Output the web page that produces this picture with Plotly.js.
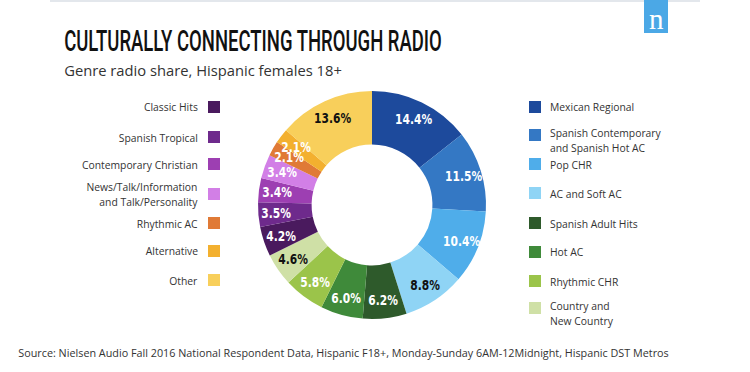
<!DOCTYPE html>
<html>
<head>
<meta charset="utf-8">
<script src="https://cdn.plot.ly/plotly-3.0.1.min.js"></script>
<style>html,body{margin:0;padding:0;background:#fff;}#chart{width:750px;height:372px;}</style>
</head>
<body>
<div id="chart"></div>
<script>
// ---- Data ----
const genres = [
  "Mexican Regional",
  "Spanish Contemporary<br>and Spanish Hot AC",
  "Pop CHR",
  "AC and Soft AC",
  "Spanish Adult Hits",
  "Hot AC",
  "Rhythmic CHR",
  "Country and<br>New Country",
  "Classic Hits",
  "Spanish Tropical",
  "Contemporary Christian",
  "News/Talk/Information<br>and Talk/Personality",
  "Rhythmic AC",
  "Alternative",
  "Other"
];
const shares = [14.4, 11.5, 10.4, 8.8, 6.2, 6.0, 5.8, 4.6, 4.2, 3.5, 3.4, 3.4, 2.1, 2.1, 13.6];
const shareLabels = ["14.4%","11.5%","10.4%","8.8%","6.2%","6.0%","5.8%","4.6%","4.2%","3.5%","3.4%","3.4%","2.1%","2.1%","13.6%"];
const colors = ["#1d4a9c","#3478c4","#4fadea","#8fd4f5","#2e5a2b","#3f8a3a","#9bc44a","#cfe0a6",
                "#4a1a5e","#6e2a8c","#9d3fb2","#d27fe6","#e07a36","#f3b02f","#f8cf5b"];
const textColors = ["#fff","#fff","#fff","#111","#fff","#fff","#fff","#111",
                    "#fff","#fff","#fff","#fff","#fff","#fff","#111"];
const rightLegend = [0,1,2,3,4,5,6,7];
const leftLegend = [8,9,10,11,12,13,14];

// ---- Geometry (pixels) ----
const W = 750, H = 372;
const cx = 372, cy = 205, R = 114;
const px = x => x / W;
const py = y => 1 - y / H;

const annotations = [];
const shapes = [];
const squeeze = []; // per-annotation horizontal scale factors (or target width)

function addAnn(a, sq) { annotations.push(a); squeeze.push(sq || null); }

// top rule + logo
shapes.push({type:"rect", xref:"paper", yref:"paper", x0:px(50), x1:px(700), y0:py(0), y1:py(2),
  fillcolor:"#e3e7ec", line:{width:0}, layer:"below"});
shapes.push({type:"rect", xref:"paper", yref:"paper", x0:px(644), x1:px(668), y0:py(0), y1:py(33),
  fillcolor:"#4ba8e6", line:{width:0}});
addAnn({text:"n", xref:"paper", yref:"paper", x:px(656), y:py(19), xanchor:"center", yanchor:"middle",
  showarrow:false, font:{family:"Liberation Serif, DejaVu Serif, serif", size:29, color:"#ffffff"}});

// titles
const condensed = "DejaVu Sans Condensed, Liberation Sans Narrow, Arial Narrow, sans-serif";
addAnn({text:"CULTURALLY CONNECTING THROUGH RADIO", xref:"paper", yref:"paper", x:px(62), y:py(40),
  xanchor:"left", yanchor:"middle", showarrow:false,
  font:{family:"Roboto, sans-serif", size:30, color:"#111111", weight:500}}, {width:378});
addAnn({text:"Genre radio share, Hispanic females 18+", xref:"paper", yref:"paper", x:px(62), y:py(70),
  xanchor:"left", yanchor:"middle", showarrow:false,
  font:{family:"Open Sans, sans-serif", size:15, color:"#333333"}}, {width:278});
addAnn({text:"Source: Nielsen Audio Fall 2016 National Respondent Data, Hispanic F18+, Monday-Sunday 6AM-12Midnight, Hispanic DST Metros",
  xref:"paper", yref:"paper", x:px(16), y:py(352), xanchor:"left", yanchor:"middle", showarrow:false,
  font:{family:"Open Sans, sans-serif", size:11, color:"#333333"}}, {width:651});

// legends
const legendFont = {family:"Open Sans, sans-serif", size:11.5, color:"#333333"};
const leftY = [107,137,164,194,223,251,280];
leftLegend.forEach((idx, i) => {
  const y = leftY[i];
  shapes.push({type:"rect", xref:"paper", yref:"paper", x0:px(208), x1:px(220), y0:py(y-6), y1:py(y+6),
    fillcolor:colors[idx], line:{width:0}});
  addAnn({text:genres[idx], xref:"paper", yref:"paper", x:px(200), y:py(y), xanchor:"right", yanchor:"middle",
    align:"right", showarrow:false, font:legendFont}, {k:0.9});
});
const rightY = [107,135,164,193,223,252,281,308];
rightLegend.forEach((idx, i) => {
  const y = rightY[i];
  shapes.push({type:"rect", xref:"paper", yref:"paper", x0:px(529), x1:px(541), y0:py(y-6), y1:py(y+6),
    fillcolor:colors[idx], line:{width:0}});
  const multi = genres[idx].indexOf("<br>") >= 0;
  addAnn({text:genres[idx], xref:"paper", yref:"paper", x:px(548), y:py(multi ? y+5 : y), xanchor:"left", yanchor:"middle",
    align:"left", showarrow:false, font:legendFont}, {k:0.9});
});

// slice labels, positioned from the data's cumulative shares
const total = shares.reduce((a,b)=>a+b,0);
let cum = 0;
const labelR = 96;
shares.forEach((v, i) => {
  const mid = (cum + v/2) / total;
  cum += v;
  const th = 2*Math.PI*mid;
  addAnn({text:shareLabels[i], xref:"paper", yref:"paper",
    x:px(cx + labelR*Math.sin(th)), y:py(cy - labelR*Math.cos(th)), xanchor:"center", yanchor:"middle",
    showarrow:false, font:{family:condensed, size:14.5, color:textColors[i], weight:"bold"}}, {k:0.82});
});

const trace = {
  type:"pie",
  labels: genres,
  values: shares,
  sort:false,
  direction:"clockwise",
  rotation:0,
  hole:0.53,
  marker:{colors:colors, line:{width:0}},
  textinfo:"none",
  hoverinfo:"none",
  showlegend:false,
  domain:{x:[px(cx-R), px(cx+R)], y:[py(cy+R), py(cy-R)]}
};

const layout = {
  width:W, height:H,
  margin:{l:0,r:0,t:0,b:0},
  paper_bgcolor:"#ffffff",
  showlegend:false,
  annotations:annotations,
  shapes:shapes
};

Plotly.newPlot("chart", [trace], layout, {staticPlot:true}).then(() => {
  document.querySelectorAll("g.annotation").forEach(g => {
    const i = +g.getAttribute("data-index");
    const sq = squeeze[i];
    if (!sq) return;
    const el = g.querySelector(".annotation-text");
    if (!el) return;
    const bb = el.getBBox();
    const k = sq.width ? sq.width / bb.width : sq.k;
    const a = annotations[i].xanchor;
    const ox = a === "left" ? bb.x : a === "right" ? bb.x + bb.width : bb.x + bb.width/2;
    el.setAttribute("transform", `translate(${ox*(1-k)},0) scale(${k},1)`);
  });
});
</script>
</body>
</html>
